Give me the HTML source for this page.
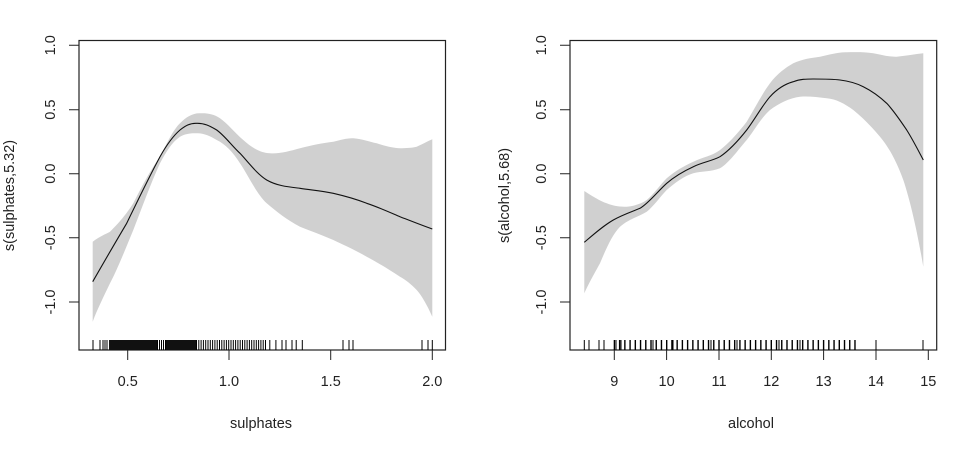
<!DOCTYPE html>
<html><head><style>
html,body{margin:0;padding:0;background:#fff;}
svg{display:block;}
text{font-family:"Liberation Sans",sans-serif;font-size:14.5px;fill:#222;}
</style></head><body>
<svg width="961" height="452" viewBox="0 0 961 452" xmlns="http://www.w3.org/2000/svg">
<!-- Plot 1 -->
<path d="M92.7,241.7 C100,236 106,234 110,231.7 C120,222 127,213 133.3,203.3 C145,180 152,168 160,156.7 C167,143 173,130 180,123.3 C186,117 193,113 200,113.3 C207,113 214,114 220,118.3 C229,125 236,134 243.3,140 C252,148 261,153 270,153.3 C280,154 290,151 300,148.3 C312,145 323,143 333.3,141.7 C341,140 347,138 353.3,138.3 C362,139 370,142 376.7,143.3 C385,146 393,148 400,148.3 C406,148 412,148 416.7,146.7 C423,144 428,141 432.3,139.3 L432.3,316.7 C427,305 422,296 416.7,290 C411,284 406,280 400,276.7 C388,269 377,262 366.7,256.7 C355,250 344,245 333.3,240 C322,235 311,231 300,226.7 C287,220 277,212 266.7,203.3 C256,193 248,175 240,163.3 C233,152 225,144 216.7,140 C210,136 203,133 196.7,133.3 C190,133 185,134 180,136.7 C172,142 166,152 160,163.3 C150,185 142,208 133.3,230 C125,250 118,268 110,283.3 C103,298 97,310 92.7,321.7 Z" fill="#d0d0d0"/>
<path d="M92.7,281.7 C104,262 115,243 126.7,223.3 C138,200 149,177 160,156.7 C166,146 173,136 180,130 C185,126 190,123 196.7,123.3 C204,123 210,126 216.7,130 C225,136 232,146 240,153.3 C249,163 257,174 266.7,180 C277,186 289,187 300,188.3 C311,190 322,191 333.3,193.3 C345,196 356,199 366.7,203.3 C378,207 389,212 400,216.7 C411,221 421,225 432.3,229" fill="none" stroke="#111" stroke-width="1.1"/>
<rect x="79" y="40.5" width="366.5" height="309.5" fill="none" stroke="#222" stroke-width="1.2"/>
<!-- rug 1 -->
<g stroke="#000" stroke-width="1">
<path d="M93,340V350M100,340V350M103,340V350M105,340V350M107,340V350M269.8,340V350M275.9,340V350M282,340V350M286,340V350M292,340V350M296.2,340V350M302.3,340V350M343,340V350M349,340V350M353,340V350M422,340V350M428,340V350M432.3,340V350"/>
</g>
<rect x="109" y="340" width="48" height="10" fill="#111"/>
<line x1="157" y1="345" x2="166" y2="345" stroke="#000" stroke-width="10" stroke-dasharray="1,1"/>
<rect x="166" y="340" width="30" height="10" fill="#111"/>
<line x1="196" y1="345" x2="266" y2="345" stroke="#000" stroke-width="10" stroke-dasharray="1,1.3"/>
<!-- axes 1 -->
<g stroke="#222" stroke-width="1">
<path d="M127.7,350V360M229,350V360M330.7,350V360M432.3,350V360"/>
<path d="M79,45.3H69M79,109.7H69M79,173.7H69M79,237.7H69M79,302H69"/>
</g>
<g text-anchor="middle">
<text x="127.7" y="386">0.5</text>
<text x="229" y="386">1.0</text>
<text x="330.7" y="386">1.5</text>
<text x="432.3" y="386">2.0</text>
<text transform="translate(55,45.3) rotate(-90)">1.0</text>
<text transform="translate(55,109.7) rotate(-90)">0.5</text>
<text transform="translate(55,173.7) rotate(-90)">0.0</text>
<text transform="translate(55,237.7) rotate(-90)">-0.5</text>
<text transform="translate(55,302) rotate(-90)">-1.0</text>
<text transform="translate(14,195.5) rotate(-90)">s(sulphates,5.32)</text>
<text x="261" y="428">sulphates</text>
</g>

<!-- Plot 2 -->
<path d="M584.3,191 C592,196 600,201 606.7,203.3 C613,206 620,207 626.7,206.7 C634,206 641,204 646.7,200 C654,194 660,185 666.7,178.3 C675,171 684,166 693.3,161.7 C703,157 712,156 720,150 C730,142 738,133 746.7,121.7 C755,108 762,94 770,83.3 C777,74 785,68 793.3,63.3 C802,59 811,58 820,56.7 C829,55 838,52 846.7,52.3 C856,52 865,52 873.3,53.3 C882,55 889,57 896.7,56.7 C906,56 915,54 923.3,53.3 L923.3,266.7 C917,230 910,200 903.3,180 C896,160 888,146 880,136.7 C871,126 862,117 853.3,110 C845,104 836,99 826.7,98.3 C817,97 808,96 800,96.7 C790,98 779,103 770,110 C761,118 754,131 746.7,140 C738,150 729,163 720,168.3 C711,172 702,171 693.3,173.3 C684,176 675,183 666.7,190 C660,197 653,207 646.7,211.7 C638,217 629,219 620,226.7 C612,235 606,249 600,263.3 C593,276 588,285 584.3,293.3 Z" fill="#d0d0d0"/>
<path d="M584.3,242.3 C594,234 603,226 613.3,220 C622,215 631,212 640,208.3 C649,203 658,191 666.7,183.3 C675,176 684,171 693.3,166.7 C703,162 712,161 720,156.7 C730,150 738,141 746.7,130 C755,119 762,106 770,96.7 C777,89 785,84 793.3,81.7 C800,79 807,79 813.3,79 C823,79 832,79 840,80 C848,81 856,83 863.3,86.7 C872,91 879,96 886.7,103.3 C894,111 900,120 906.7,130 C913,140 918,150 923.3,160" fill="none" stroke="#111" stroke-width="1.1"/>
<rect x="570" y="40.5" width="366.7" height="309.5" fill="none" stroke="#222" stroke-width="1.2"/>
<!-- rug 2 -->
<g stroke="#000" stroke-width="1">
<path d="M584.3,340V350M589,340V350M599,340V350M604,340V350M876,340V350M923,340V350M616,340V350M621,340V350M653,340V350M673,340V350M711,340V350M737,340V350M779,340V350M800,340V350"/>
</g>
<line x1="613.7" y1="345" x2="856" y2="345" stroke="#000" stroke-width="10" stroke-dasharray="1.4,3.83"/>
<!-- axes 2 -->
<g stroke="#222" stroke-width="1">
<path d="M614.3,350V360M666.6,350V360M719,350V360M771.3,350V360M823.6,350V360M876,350V360M928.3,350V360"/>
<path d="M570,45.3H560M570,109.7H560M570,173.7H560M570,237.7H560M570,302H560"/>
</g>
<g text-anchor="middle">
<text x="614.3" y="386">9</text>
<text x="666.6" y="386">10</text>
<text x="719" y="386">11</text>
<text x="771.3" y="386">12</text>
<text x="823.6" y="386">13</text>
<text x="876" y="386">14</text>
<text x="928.3" y="386">15</text>
<text transform="translate(546,45.3) rotate(-90)">1.0</text>
<text transform="translate(546,109.7) rotate(-90)">0.5</text>
<text transform="translate(546,173.7) rotate(-90)">0.0</text>
<text transform="translate(546,237.7) rotate(-90)">-0.5</text>
<text transform="translate(546,302) rotate(-90)">-1.0</text>
<text transform="translate(509,195.5) rotate(-90)">s(alcohol,5.68)</text>
<text x="751" y="428">alcohol</text>
</g>
</svg>
</body></html>
